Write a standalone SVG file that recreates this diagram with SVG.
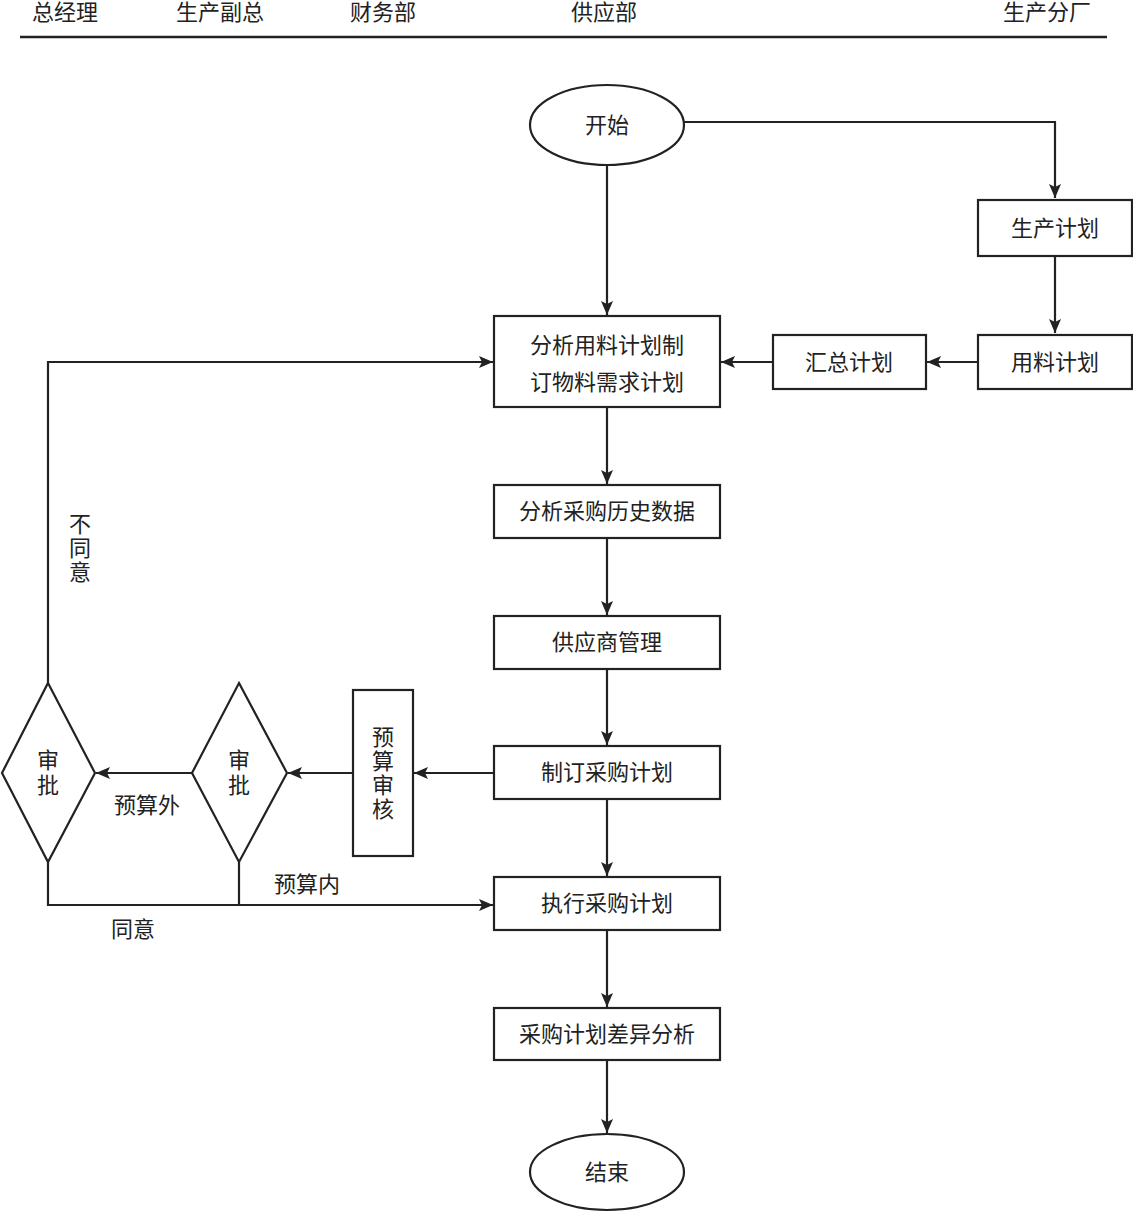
<svg xmlns="http://www.w3.org/2000/svg" width="1133" height="1214" viewBox="0 0 1133 1214">
<style>
text{font-family:"Liberation Serif","Noto Sans CJK SC",serif;font-size:22px;fill:#222;text-anchor:middle;dominant-baseline:central}
.n{fill:#fff;stroke:#222;stroke-width:2.2}
.c{fill:none;stroke:#222;stroke-width:2.2}
</style>
<defs><marker id="a" viewBox="0 0 14 12" refX="14" refY="6" markerWidth="14" markerHeight="12" orient="auto" markerUnits="userSpaceOnUse"><path d="M0,0 L14,6 L0,12 L3,6 z" fill="#222"/></marker></defs>
<rect width="1133" height="1214" fill="#fff"/>
<g id="header">
<text x="65" y="12">总经理</text><text x="220" y="12">生产副总</text><text x="383" y="12">财务部</text><text x="604" y="12">供应部</text><text x="1047" y="12">生产分厂</text>
<line x1="20" y1="37" x2="1107" y2="37" stroke="#222" stroke-width="2.5"/>
</g>
<g id="connectors" class="c">
<path d="M607,165V315" marker-end="url(#a)"/>
<path d="M684,122H1055V198" marker-end="url(#a)"/>
<path d="M1055,256V333" marker-end="url(#a)"/>
<path d="M978,362H927" marker-end="url(#a)"/>
<path d="M773,362H721" marker-end="url(#a)"/>
<path d="M607,407V484" marker-end="url(#a)"/>
<path d="M607,538V615" marker-end="url(#a)"/>
<path d="M607,669V745" marker-end="url(#a)"/>
<path d="M607,799V876" marker-end="url(#a)"/>
<path d="M607,930V1007" marker-end="url(#a)"/>
<path d="M607,1060V1133" marker-end="url(#a)"/>
<path d="M494,773H414" marker-end="url(#a)"/>
<path d="M353,773H288" marker-end="url(#a)"/>
<path d="M192,773H96" marker-end="url(#a)"/>
<path d="M48,683V362H493" marker-end="url(#a)"/>
<path d="M48,862V905H493" marker-end="url(#a)"/>
<path d="M239,862V905"/>
</g>
<g id="labels">
<text x="80" y="524">不</text><text x="80" y="548">同</text><text x="80" y="572">意</text>
<text x="147" y="805">预算外</text><text x="307" y="884">预算内</text><text x="133" y="929">同意</text>
</g>
<g id="start"><ellipse class="n" cx="607" cy="125" rx="77" ry="40"/><text x="607" y="125">开始</text></g>
<g id="plan"><rect class="n" x="978" y="200" width="154" height="56"/><text x="1055" y="228">生产计划</text></g>
<g id="material"><rect class="n" x="978" y="335" width="154" height="54"/><text x="1055" y="362">用料计划</text></g>
<g id="summary"><rect class="n" x="773" y="335" width="153" height="54"/><text x="849" y="362">汇总计划</text></g>
<g id="analyze"><rect class="n" x="494" y="316" width="226" height="91"/><text x="607" y="345">分析用料计划制</text><text x="607" y="382">订物料需求计划</text></g>
<g id="history"><rect class="n" x="494" y="485" width="226" height="53"/><text x="607" y="511">分析采购历史数据</text></g>
<g id="supplier"><rect class="n" x="494" y="616" width="226" height="53"/><text x="607" y="642">供应商管理</text></g>
<g id="make"><rect class="n" x="494" y="746" width="226" height="53"/><text x="607" y="772">制订采购计划</text></g>
<g id="exec"><rect class="n" x="494" y="877" width="226" height="53"/><text x="607" y="903">执行采购计划</text></g>
<g id="diff"><rect class="n" x="494" y="1008" width="226" height="52"/><text x="607" y="1034">采购计划差异分析</text></g>
<g id="end"><ellipse class="n" cx="607" cy="1172" rx="77" ry="38"/><text x="607" y="1172">结束</text></g>
<g id="budget"><rect class="n" x="353" y="690" width="60" height="166"/><text x="383" y="737">预</text><text x="383" y="761">算</text><text x="383" y="785">审</text><text x="383" y="809">核</text></g>
<g id="approve2"><polygon class="n" points="239,683 287,773 239,862 192,773"/><text x="239" y="760">审</text><text x="239" y="785">批</text></g>
<g id="approve1"><polygon class="n" points="48,683 95,773 48,862 2,773"/><text x="48" y="760">审</text><text x="48" y="785">批</text></g>
</svg>
